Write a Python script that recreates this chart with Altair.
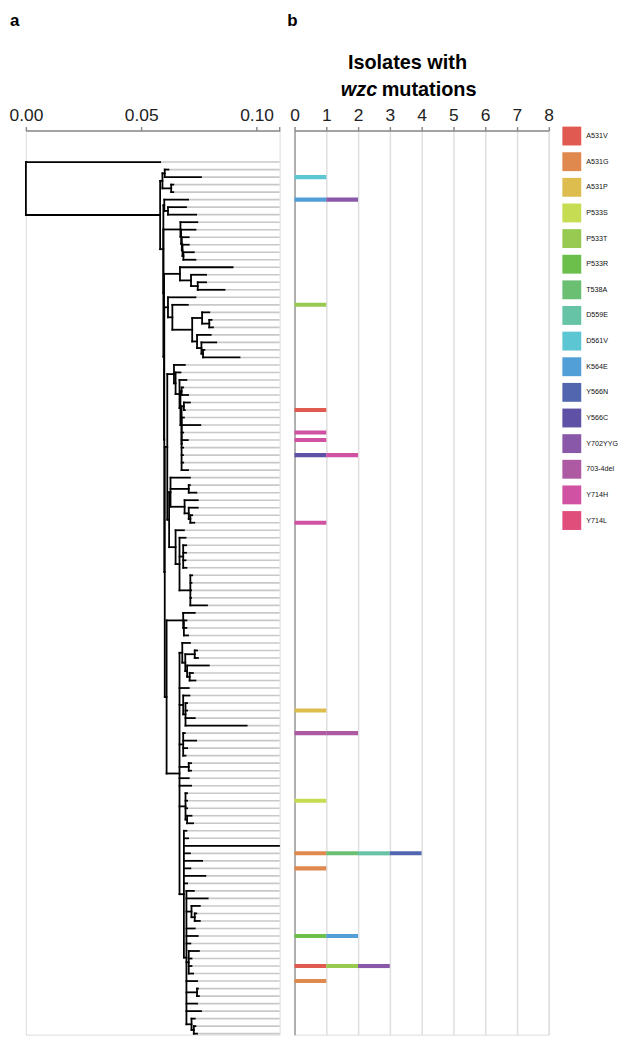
import altair as alt
import pandas as pd

# ---------------- data ----------------
MUTATIONS = ["A531V", "A531G", "A531P", "P533S", "P533T", "P533R", "T538A", "D559E",
             "D561V", "K564E", "Y566N", "Y566C", "Y702YYG", "703-4del", "Y714H", "Y714L"]
COLORS = ["#e05a52", "#e0894e", "#dcbd4e", "#c6dc52", "#98ca52", "#6cbf4a", "#6abf72", "#66c3a6",
          "#5cc6d2", "#529fd8", "#5266b0", "#5f52a6", "#8a58a8", "#ad5aa3", "#d052a2", "#e04f7c"]

# leaf (isolate) row index -> wzc mutations carried (one isolate-count unit each)
BAR_ROWS = [2, 5, 19, 33, 36, 37, 39, 48, 73, 76, 85, 92, 94, 103, 107, 109]
BAR_MUTS = [["D561V"], ["K564E", "Y702YYG"], ["P533T"], ["A531V"], ["Y714H"], ["Y714H"],
            ["Y566C", "Y714H"], ["Y714H"], ["A531P"], ["703-4del", "703-4del"], ["P533S"],
            ["A531G", "T538A", "D559E", "Y566N"], ["A531G"], ["P533R", "K564E"],
            ["A531V", "P533T", "Y702YYG"], ["A531G"]]

# phylogeny: a leaf is its tip depth; an internal node is [node depth, children...]
CLADE_A = [0.0592, [0.0602, 0.0618, 0.0759], [0.0630, 0.0639, 0.0639]]
CLADE_C = [0.0600, 0.0703, [0.0616, 0.0694, 0.0738]]
CLADE_D = [0.0670, 0.0743, [0.0673, 0.0735, [0.0676, 0.0706, [0.0679, 0.0706, [0.0683, 0.0728, 0.0735]]]]]
CLADE_E = [0.0668, 0.0896, [0.0716, 0.0781, [0.0745, 0.0781, 0.0861]]]
CLADE_F = [0.0616, 0.0735, [0.0635, 0.0702, [0.0721, [0.0764, 0.0795, [0.0795, 0.0805, 0.0811]],
                                              [0.0742, 0.0801, [0.0761, 0.0825, [0.0768, 0.0774, 0.0926]]]]]]
CLADE_G = [0.0642, 0.0689, [0.0649, 0.0670, [0.0666, 0.0696, [0.0670, [0.0675, 0.0682, 0.0703],
           [0.0675, [0.0685, 0.0711, 0.0689],
            [0.0675, 0.0685, 0.0756, 0.0682, 0.0702, 0.0682, 0.0681, 0.0682, 0.0703]]]]]]
CLADE_H = [0.0627, 0.0711, [0.0706, 0.0711, 0.0739], [0.0688, 0.0745, [0.0706, 0.0745, [0.0713, 0.0721, 0.0730]]]]
CLADE_I = [0.0649, 0.0685, [0.0666, 0.0692, [0.0682, 0.0695, 0.0694, 0.0692, 0.0696],
                            [0.0713, 0.0721, 0.0718, 0.0716, 0.0716, 0.0785]]]
CLADE_J = [0.0682, 0.0732, [0.0685, 0.0696, 0.0696, 0.0703]]
CLADE_K1 = [0.0678, 0.0711, [0.0691, [0.0732, 0.0742, 0.0746], [0.0699, 0.0793, [0.0710, 0.0724, 0.0735]]]]
CLADE_K2 = [0.0682, 0.0709, [0.0692, 0.0699, 0.0699, 0.0732, 0.0957]]
CLADE_K3 = [0.0682, 0.0689, 0.0738, 0.0699, 0.0692]
CLADE_K4 = [0.0706, 0.0716, 0.0716]
CLADE_K5 = [0.0692, 0.0699, 0.0699, 0.0699, [0.0699, 0.0718, 0.0725]]
CLADE_K7 = [0.0696, 0.0728, 0.0788, [0.0718, 0.0754, [0.0732, 0.0739, 0.0754]], 0.0732, 0.0745, 0.0713,
            [0.0706, 0.0750, 0.0718, 0.0718, 0.0725], 0.0742, [0.0742, 0.0746, 0.0750], 0.0742, 0.0759,
            [0.0718, 0.0732, [0.0728, 0.0735, 0.0742]]]
CLADE_K6 = [0.0685, 0.0696, 0.0703, 0.1097, 0.0711, 0.0764, 0.0713, 0.0778, 0.0699, CLADE_K7]
CLADE_K = [0.0666, CLADE_K1, 0.0706, CLADE_K2, CLADE_K3, CLADE_K4, 0.0706, 0.0716, CLADE_K5, CLADE_K6]

HI = [0.0621, CLADE_H, CLADE_I]
GHI = [0.0613, CLADE_G, HI]
JK = [0.0610, CLADE_J, CLADE_K]
B5 = [0.0602, GHI, JK]
B4 = [0.0600, CLADE_F, B5]
B3 = [0.0599, CLADE_E, B4]
B2 = [0.0596, CLADE_D, B3]
B = [0.0596, CLADE_C, B2]
MC = [0.0582, CLADE_A, B]
TREE = [0.0, 0.0582, MC]

SCALE_END = 0.11

# ---------------- tree layout ----------------
black_segs, gray_segs = [], []
counter = [0]


def layout(node, parent_depth):
    if isinstance(node, list):
        d = node[0]
        ys = [layout(ch, d) for ch in node[1:]]
        y = (ys[0] + ys[-1]) / 2.0
        black_segs.append(dict(x=d, x2=d, y=ys[0], y2=ys[-1]))
    else:
        d = node
        y = counter[0]
        counter[0] += 1
        gray_segs.append(dict(x=d, x2=SCALE_END, y=y, y2=y))
    if parent_depth is not None:
        black_segs.append(dict(x=parent_depth, x2=d, y=y, y2=y))
    return y


layout(TREE, None)
df_black = pd.DataFrame(black_segs)
df_gray = pd.DataFrame(gray_segs)

bar_records = []
for row, muts in zip(BAR_ROWS, BAR_MUTS):
    for k, m in enumerate(muts):
        bar_records.append(dict(y0=row - 0.27, y1=row + 0.27, start=k, end=k + 1, mutation=m))
df_bars = pd.DataFrame(bar_records)

# ---------------- layout constants ----------------
PLOT_H = 910.0
ROW_PX = 7.563
Y_TOP = -(157.7 - 126.0) / ROW_PX
Y_BOT = Y_TOP + PLOT_H / ROW_PX
FONT = "Liberation Sans"

yscale = alt.Scale(domain=[Y_TOP, Y_BOT], reverse=True, nice=False, zero=False)

axis_common = dict(orient="top", title=None, domainColor="#8a8a8a", domainWidth=1.5,
                   tickColor="#8a8a8a", tickWidth=1.5, tickSize=4, labelFontSize=17.5,
                   labelFont=FONT, labelColor="#222222", labelPadding=2, labelFlush=False)

tree_x = alt.X("x:Q", scale=alt.Scale(domain=[0, SCALE_END], nice=False, zero=False),
               axis=alt.Axis(values=[0, 0.05, 0.1, 0.11], grid=False,
                             labelExpr="datum.value > 0.105 ? '' : format(datum.value, '.2f')",
                             **axis_common))
tree_y = alt.Y("y:Q", scale=yscale, axis=None)

gray = alt.Chart(df_gray).mark_rule(color="#c8c8c8", strokeWidth=1.6).encode(
    x=tree_x, x2="x2:Q", y=tree_y, y2="y2:Q")
black = alt.Chart(df_black).mark_rule(color="black", strokeWidth=1.8, strokeCap="square").encode(
    x=tree_x, x2="x2:Q", y=tree_y, y2="y2:Q")
label_a = alt.Chart(pd.DataFrame({"t": ["a"]})).mark_text(
    font=FONT, fontSize=17, fontWeight="bold", align="left", baseline="alphabetic", color="black"
).encode(text="t:N", x=alt.value(-16), y=alt.value(-105))

tree_chart = alt.layer(gray, black, label_a).properties(width=255.4, height=PLOT_H)

bars = alt.Chart(df_bars).mark_rect().encode(
    x=alt.X("start:Q", scale=alt.Scale(domain=[0, 8], nice=False, zero=False),
            axis=alt.Axis(values=list(range(9)), grid=True, gridWidth=1.5,
                          gridColor={"condition": {"test": "datum.value === 0", "value": "#9a9a9a"},
                                     "value": "#dedede"},
                          format="d", **axis_common)),
    x2="end:Q",
    y=alt.Y("y0:Q", scale=yscale, axis=None),
    y2="y1:Q",
    color=alt.Color("mutation:N", scale=alt.Scale(domain=MUTATIONS, range=COLORS),
                    legend=alt.Legend(title=None, orient="none", legendX=540, legendY=-4,
                                      symbolType="square", symbolSize=361, symbolStrokeWidth=0,
                                      symbolOpacity=1, labelFontSize=7.2, labelFont=FONT,
                                      labelColor="#111111", rowPadding=6.8, labelOffset=5,
                                      padding=0)),
)

txt = dict(font=FONT, fontSize=20, fontWeight="bold", baseline="alphabetic", color="black")
t1 = alt.Chart(pd.DataFrame({"t": ["Isolates with"]})).mark_text(align="center", **txt).encode(
    text="t:N", x=alt.value(113.7), y=alt.value(-62))
t2 = alt.Chart(pd.DataFrame({"t": ["wzc"]})).mark_text(align="right", fontStyle="italic", **txt).encode(
    text="t:N", x=alt.value(83.2), y=alt.value(-35.3))
t3 = alt.Chart(pd.DataFrame({"t": ["mutations"]})).mark_text(align="left", **txt).encode(
    text="t:N", x=alt.value(87.7), y=alt.value(-35.3))
label_b = alt.Chart(pd.DataFrame({"t": ["b"]})).mark_text(
    font=FONT, fontSize=17, fontWeight="bold", align="left", baseline="alphabetic", color="black"
).encode(text="t:N", x=alt.value(-7.3), y=alt.value(-105))

bar_chart = alt.layer(bars, t1, t2, t3, label_b).properties(width=255.7, height=PLOT_H)

chart = alt.hconcat(tree_chart, bar_chart, spacing=14.4, bounds="flush").properties(
    padding={"left": 0, "top": 0, "right": 0, "bottom": 0}
).configure_view(stroke=None).configure(font=FONT)

chart.save("out.html", embed_options={"renderer": "svg", "actions": False})
